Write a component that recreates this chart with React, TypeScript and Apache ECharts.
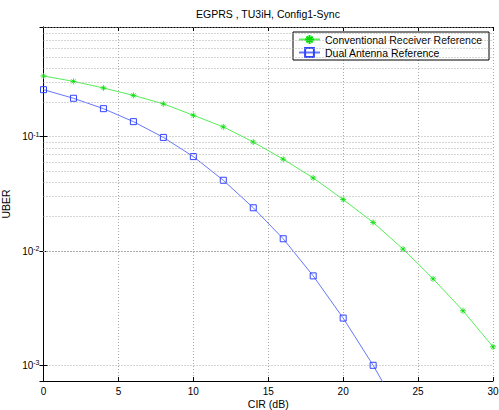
import React, { useEffect, useRef } from "react";
import * as echarts from "echarts";

const cir = [0, 2, 4, 6, 8, 10, 12, 14, 16, 18, 20, 22, 24, 26, 28, 30];
const conventional = [0.34, 0.305, 0.267, 0.23, 0.194, 0.154, 0.122, 0.0898, 0.0636, 0.0436, 0.0282, 0.0178, 0.0104, 0.00571, 0.003, 0.00145];
const dualCir = [0, 2, 4, 6, 8, 10, 12, 14, 16, 18, 20, 22, 24];
const dual = [0.258, 0.217, 0.176, 0.1355, 0.0986, 0.067, 0.0416, 0.0239, 0.0128, 0.00606, 0.00259, 0.001, 0.00035];
const minorGrid = [0.0008, 0.0009, 0.002, 0.003, 0.004, 0.005, 0.006, 0.007, 0.008, 0.009, 0.02, 0.03, 0.04, 0.05, 0.06, 0.07, 0.08, 0.09, 0.2, 0.3, 0.4, 0.5, 0.6, 0.7, 0.8, 0.9];
const yMin = 0.000729;
const yMax = 0.912;
const seriesNames = ["Conventional Receiver Reference", "Dual Antenna Reference"];

const FONT = "Liberation Sans, Arial, Helvetica, sans-serif";
const GRID_COLOR = "#a8a8a8";
const GRID_DASH = [1, 2];

export default function App() {
  const ref = useRef<HTMLDivElement>(null);
  useEffect(() => {
    document.body.style.margin = "0";
    const chart = echarts.init(ref.current!, null, { renderer: "svg" });
    const decadeLabel = (v: number) => {
      const l = Math.log10(v);
      const r = Math.round(l);
      if (Math.abs(l - r) > 1e-6) return "";
      return `{a|10}{b|${r}}`;
    };
    chart.setOption({
      animation: false,
      backgroundColor: "#fff",
      textStyle: { fontFamily: FONT },
      title: {
        text: "EGPRS , TU3iH, Config1-Sync",
        left: 196,
        top: 8,
        padding: 0,
        textStyle: { fontSize: 10.5, fontWeight: "normal", color: "#000", fontFamily: FONT },
      },
      grid: { left: 43.5, right: 6, top: 27, bottom: 29, containLabel: false, outerBoundsMode: "none" },
      legend: {
        data: seriesNames,
        orient: "vertical",
        left: 293,
        top: 32,
        padding: [2, 7, 2, 5],
        itemWidth: 21,
        itemHeight: 11,
        itemGap: 2,
        backgroundColor: "#fff",
        borderColor: "#000",
        borderWidth: 1,
        borderRadius: 0,
        textStyle: { fontSize: 10.5, color: "#000", fontFamily: FONT },
      },
      xAxis: [
        {
          type: "value",
          min: 0,
          max: 30,
          interval: 5,
          name: "CIR (dB)",
          nameLocation: "middle",
          nameGap: 17,
          nameMoveOverlap: false,
          nameTextStyle: { fontSize: 10.5, color: "#000", fontFamily: FONT, verticalAlign: "top" },
          axisLine: { lineStyle: { color: "#000", width: 1 } },
          axisTick: { inside: true, length: 4, lineStyle: { color: "#000" } },
          axisLabel: { fontSize: 10, color: "#000", margin: 5, fontFamily: FONT },
          splitLine: { show: true, lineStyle: { type: GRID_DASH, color: GRID_COLOR, width: 1 } },
        },
        {
          type: "value",
          position: "top",
          min: 0,
          max: 30,
          interval: 5,
          axisLine: { lineStyle: { color: "#000", width: 1 } },
          axisTick: { inside: true, length: 4, lineStyle: { color: "#000" } },
          axisLabel: { show: false },
          splitLine: { show: false },
        },
      ],
      yAxis: [
        {
          type: "log",
          logBase: 10,
          min: yMin,
          max: yMax,
          name: "UBER",
          nameLocation: "middle",
          nameGap: 26,
          nameTextStyle: { fontSize: 10.5, color: "#000", fontFamily: FONT },
          axisLine: { show: true, lineStyle: { color: "#000", width: 1 } },
          axisTick: { inside: true, length: 4, lineStyle: { color: "#000" } },
          axisLabel: {
            margin: 4,
            formatter: decadeLabel,
            rich: {
              a: { fontSize: 10, color: "#000", fontFamily: FONT, lineHeight: 12 },
              b: { fontSize: 7, color: "#000", fontFamily: FONT, verticalAlign: "top", lineHeight: 12, padding: [0, 0, 6, 0] },
            },
          },
          splitLine: { show: true, lineStyle: { type: GRID_DASH, color: GRID_COLOR, width: 1 } },
        },
        {
          type: "log",
          logBase: 10,
          position: "right",
          min: yMin,
          max: yMax,
          axisLine: { show: true, lineStyle: { color: "#000", width: 1 } },
          axisTick: { inside: true, length: 4, lineStyle: { color: "#000" } },
          axisLabel: { show: false },
          splitLine: { show: false },
        },
      ],
      series: [
        {
          name: "minor grid",
          type: "line",
          data: [],
          z: 1,
          silent: true,
          markLine: {
            silent: true,
            symbol: ["none", "none"],
            label: { show: false },
            lineStyle: { type: GRID_DASH, color: GRID_COLOR, width: 1 },
            emphasis: { disabled: true },
            data: minorGrid.map((v) => ({ yAxis: v })),
          },
        },
        {
          name: seriesNames[0],
          type: "line",
          data: cir.map((x, i) => [x, conventional[i]]),
          clip: true,
          z: 3,
          symbol: "path://M0,-5L0,5M-5,0L5,0M-3.5,-3.5L3.5,3.5M-3.5,3.5L3.5,-3.5",
          symbolSize: 6,
          color: "#00e000",
          lineStyle: { color: "#55ee55", width: 1 },
          itemStyle: { color: "#00e000", borderColor: "#00e000", borderWidth: 0.8 },
        },
        {
          name: seriesNames[1],
          type: "line",
          data: dualCir.map((x, i) => [x, dual[i]]),
          clip: true,
          z: 3,
          symbol: "rect",
          symbolSize: 6,
          color: "#3344ff",
          lineStyle: { color: "#6677ff", width: 1 },
          itemStyle: { color: "transparent", borderColor: "#3344ff", borderWidth: 1 },
        },
      ],
    });
    return () => chart.dispose();
  }, []);
  return <div ref={ref} style={{ width: 499, height: 410, position: "absolute", left: 0, top: 0 }} />;
}
